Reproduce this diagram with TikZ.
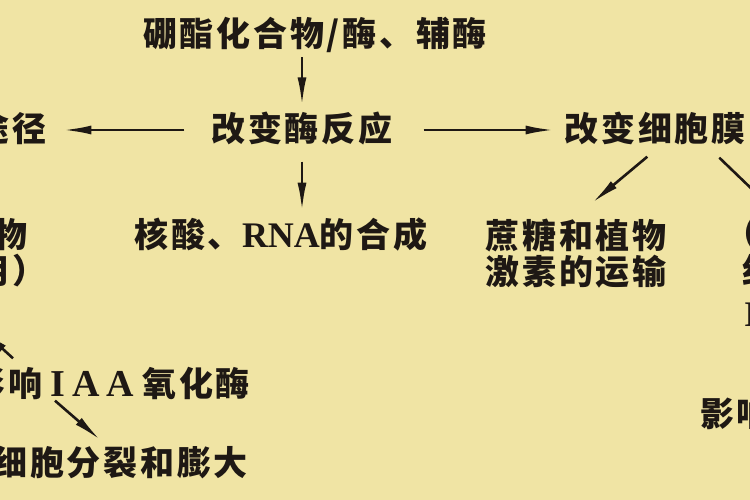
\documentclass[tikz,border=0pt]{standalone}
\usepackage{fontspec}
\usepackage{tikz}
\usetikzlibrary{positioning}
\usetikzlibrary{arrows.meta}
\newfontfamily\cjk{Noto Sans CJK SC}[LetterSpace=8]
\newfontfamily\lat{Liberation Serif}
\definecolor{paper}{RGB}{240,228,164}
\definecolor{ink}{RGB}{30,24,20}

\begin{document}
\begin{tikzpicture} [x=1pt, y=1pt, >={Latex[length=28pt,width=9pt]}]
            % Set styles
            \tikzset{
                term/.style={
                        inner sep=0pt,
                        text=ink,
                        font=\cjk\bfseries\fontsize{34}{40}\selectfont,
                        text height=27pt,
                        text depth=4pt
                    }
            }
            \tikzset{
                twoline/.style={
                        inner sep=0pt,
                        text=ink,
                        align=center,
                        font=\cjk\bfseries\fontsize{34}{36}\selectfont
                    }
            }
            \tikzset{
                link/.style={
                        ink,
                        line width=2.6pt
                    }
            }
            % Paper
            \useasboundingbox (0,0) rectangle (750,500);
            \clip (0,0) rectangle (750,500);
            \fill[paper] (0,0) rectangle (750,500);
            % Placing nodes
            \node[term] (react) at (302,370) {改变酶反应};
            \node[term, above = 64pt of react, xshift = 13pt] (boron) {硼酯化合物/酶、辅酶};
            \node[term, below = 75pt of react, xshift = -21pt] (rna) {核酸、{\lat\bfseries\fontsize{36}{40}\selectfont RNA}的合成};
            \node[term, right = 172pt of react] (membrane) {改变细胞膜};
            \node[term, left = 165pt of react] (path) {途径};
            \node[twoline, below = 73pt of membrane, xshift = -79pt] (sucrose) {蔗糖和植物\\激素的运输};
            \node[twoline, below left = 73pt and 0pt of path.south east] (plant) {植物\\作用）};
            \node[term, anchor = east] (oxid) at (250,115) {影响\hspace{8pt}{\lat\bfseries\fontsize{38}{40}\selectfont I\hspace{7pt}A\hspace{7pt}A}\hspace{8pt}氧化酶};
            \node[term, below left = 48pt and 2pt of oxid.south east] (divide) {细胞分裂和膨大};
            \node[term, anchor = west] (side1) at (724,265) {（};
            \node[term, anchor = west] (side2) at (742,228) {细};
            \node[term, anchor = west, font=\lat\bfseries\fontsize{36}{40}\selectfont] (side3) at (744,185) {I};
            \node[term, anchor = west] (affect) at (700,85) {影响};
            \coordinate (offright) at (784,280);
            \coordinate (offleft) at (-18,170);
            % Placing arrows
            \draw[link, ->, shorten <=7pt, shorten >=9pt] (boron.south -| react.north) -- (react.north);
            \draw[link, ->, shorten <=16pt, shorten >=10pt] (react.south) -- (react.south |- rna.north);
            \draw[link, ->, shorten <=27pt, shorten >=17pt] (react.west) -- (path.east);
            \draw[link, ->, shorten <=31pt, shorten >=11pt] (react.east) -- (membrane.west);
            \draw[link, ->] ([xshift=-8pt, yshift=-11pt]membrane.south) -- ([xshift=16pt, yshift=16pt]sucrose.north);
            \draw[link, ->] ([xshift=64pt, yshift=-12pt]membrane.south) -- (offright);
            \draw[link, ->] ([xshift=-237pt, yshift=11pt]oxid.north east) -- (offleft);
            \draw[link, ->] ([xshift=-195pt]oxid.south east) -- ([xshift=-148pt, yshift=9pt]divide.north east);
        \end{tikzpicture}
\end{document}
